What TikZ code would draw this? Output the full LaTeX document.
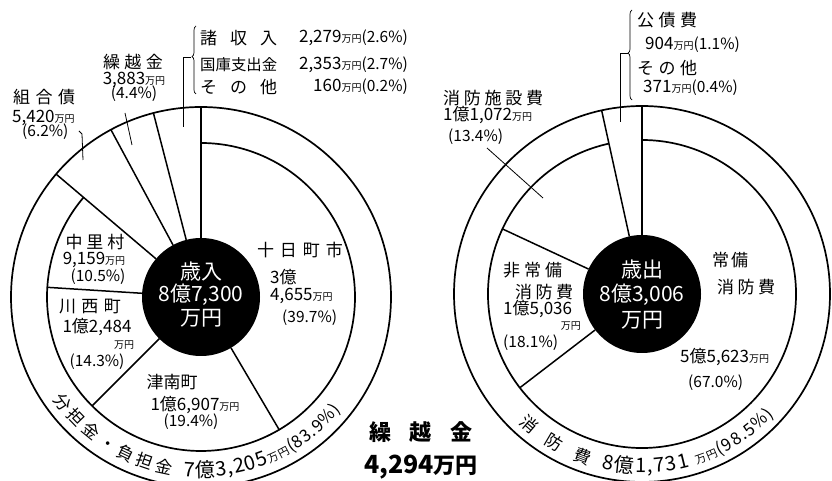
\documentclass[tikz,border=0pt]{standalone}
\usepackage{fontspec}
\setmainfont{Noto Sans CJK JP}
\usetikzlibrary{decorations.text,decorations.pathreplacing}
\newcommand\mY{{\fontsize{10}{10}\selectfont 万円}}
\newcommand\pcx[1]{{\fontsize{15.5}{15.5}\selectfont(#1\%)}}
\newcommand\sprd[2]{\makebox[#1][s]{#2}}
\begin{document}
\begin{tikzpicture}[x=1pt,y=1pt,
  ring/.style={line width=1.7pt},
  spoke/.style={line width=1.5pt},
  leader/.style={line width=0.8pt},
  lbl/.style={font=\fontsize{17}{19}\selectfont, inner sep=0pt},
  ctr/.style={font=\fontsize{21}{23}\selectfont, text=white, inner sep=0pt},
  big/.style={font=\fontsize{22}{24}\selectfont\bfseries, inner sep=0pt},
  bracebar/.style={line width=0.7pt, decorate, decoration={brace, amplitude=4pt, aspect=#1}},
]
\clip (0,0) rectangle (832,481);
\coordinate (L) at (201,184);
\coordinate (R) at (642,187);

% ---------- left pie ----------
\draw[ring] (L) circle[radius=190];
\draw[ring] ([shift={(139.7:154)}]L) arc[start angle=139.7, end angle=450, radius=154];
\fill (L) circle[radius=59];
\foreach \a in {90,104.5,118.3,139.7}
  \draw[spoke] ([shift={(\a:59)}]L) -- ([shift={(\a:190)}]L);
\foreach \a in {176.4,-135,-59.5}
  \draw[spoke] ([shift={(\a:59)}]L) -- ([shift={(\a:154)}]L);

\path[decorate, decoration={text along path, text align=fit to path,
  text={|\fontsize{17}{17}\selectfont|分担金・負担金}}]
  ([shift={(-145.5:180)}]L) arc[start angle=-145.5, end angle=-99.5, radius=180];
\path[decorate, decoration={text along path, text align=fit to path,
  text={|\fontsize{20}{20}\selectfont|7億3,205|\fontsize{11}{11}\selectfont|万円|\fontsize{17}{17}\selectfont|(83.9{\%})}}]
  ([shift={(-95.5:180)}]L) arc[start angle=-95.5, end angle=-39, radius=180];

\node[ctr] (inA) at (201,209) {歳入};
\node[ctr] (inB) at (201,186) {8億7,300};
\node[ctr] (inC) at (201,163) {万円};

\node[lbl] (tk1) at (300,231) {\sprd{86pt}{十\hfill 日\hfill 町\hfill 市}};
\node[lbl,anchor=west] (tk2) at (270,204) {3億};
\node[lbl,anchor=west] (tk3) at (270,185) {4,655\mY};
\node[lbl,anchor=west] (tk4) at (282,163) {\pcx{39.7}};

\node[lbl] (nk1) at (95,239) {\sprd{59pt}{中\hfill 里\hfill 村}};
\node[lbl] (nk2) at (94,221) {9,159\mY};
\node[lbl] (nk3) at (98,204) {\pcx{10.5}};

\node[lbl] (kw1) at (90,174) {\sprd{62pt}{川\hfill 西\hfill 町}};
\node[lbl] (kw2) at (97,154) {1億2,484};
\node[lbl] (kw3) at (124,136) {\mY};
\node[lbl] (kw4) at (97,119) {\pcx{14.3}};

\node[lbl] (tn1) at (172,99) {津南町};
\node[lbl] (tn2) at (195,76) {1億6,907\mY};
\node[lbl] (tn3) at (191,59) {\pcx{19.4}};

\node[lbl,anchor=west] (kb1) at (13,384) {\sprd{62pt}{組\hfill 合\hfill 債}};
\node[lbl,anchor=west] (kb2) at (12,363) {5,420\mY};
\node[lbl,anchor=west] (kb3) at (22,349) {\pcx{6.2}};
\coordinate (kbA) at (79,350);
\coordinate (kbB) at (82,347);
\coordinate (kbC) at (83,321);
\draw[leader] (kbA) -- (kbB) -- (kbC);

\node[lbl] (kk1) at (133,419) {\sprd{60pt}{繰\hfill 越\hfill 金}};
\node[lbl] (kk2) at (134,401) {3,883\mY};
\node[lbl] (kk3) at (134,387) {\pcx{4.4}};
\coordinate (kkA) at (125,368);
\coordinate (kkB) at (132,336);
\draw[leader] (kkA) -- (kkB);

\node[lbl,anchor=west] (sy1) at (200,443) {\sprd{77pt}{諸\hfill 収\hfill 入}};
\node[lbl,anchor=east] (sy2) at (408,443) {2,279\mY\pcx{2.6}};
\node[lbl,anchor=west,font=\fontsize{15.4}{17}\selectfont] (kk4) at (200,416) {国庫支出金};
\node[lbl,anchor=east] (kk5) at (408,416) {2,353\mY\pcx{2.7}};
\node[lbl,anchor=west] (st1) at (200,394) {\sprd{77pt}{そ\hfill の\hfill 他}};
\node[lbl,anchor=east] (st2) at (408,394) {160\mY\pcx{0.2}};
\coordinate (brL1) at (196,387);
\coordinate (brL2) at (196,455);
\draw[bracebar=0.55] (brL1) -- (brL2);
\coordinate (ldL1) at (191,424);
\coordinate (ldL2) at (183,424);
\coordinate (ldL3) at (183,354);
\draw[leader] (ldL1) -- (ldL2) -- (ldL3);

% ---------- centre bottom ----------
\node[big] (kz1) at (421,49) {\sprd{103pt}{繰\hfill 越\hfill 金}};
\node[big] (kz2) at (421,14) {{\fontsize{25}{25}\selectfont 4,294}万円};

% ---------- right pie ----------
\draw[ring] (R) circle[radius=188];
\draw[ring] ([shift={(102.4:154)}]R) arc[start angle=102.4, end angle=450, radius=154];
\fill (R) circle[radius=59];
\foreach \a in {90,102.4}
  \draw[spoke] ([shift={(\a:59)}]R) -- ([shift={(\a:188)}]R);
\foreach \a in {155,-142.5}
  \draw[spoke] ([shift={(\a:59)}]R) -- ([shift={(\a:154)}]R);

\path[decorate, decoration={text along path, text align=fit to path,
  text={|\fontsize{17}{17}\selectfont|消防費}}]
  ([shift={(-133.5:179)}]R) arc[start angle=-133.5, end angle=-107.5, radius=179];
\path[decorate, decoration={text along path, text align=fit to path,
  text={|\fontsize{20}{20}\selectfont|8億1,731 |\fontsize{11}{11}\selectfont|万円|\fontsize{17}{17}\selectfont|(98.5{\%})}}]
  ([shift={(-103:179)}]R) arc[start angle=-103, end angle=-42.5, radius=179];

\node[ctr] (outA) at (642,211) {歳出};
\node[ctr] (outB) at (642,186) {8億3,006};
\node[ctr] (outC) at (642,161) {万円};

\node[lbl,anchor=west] (jb1) at (712,221) {\sprd{36pt}{常\hfill 備}};
\node[lbl,anchor=west] (jb2) at (717,194) {\sprd{58pt}{消\hfill 防\hfill 費}};
\node[lbl,anchor=west] (jb3) at (680,124) {5億5,623\mY};
\node[lbl,anchor=west] (jb4) at (688,98) {\pcx{67.0}};

\node[lbl,anchor=west] (hj1) at (503,211) {\sprd{59pt}{非\hfill 常\hfill 備}};
\node[lbl,anchor=west] (hj2) at (515,189) {\sprd{58pt}{消\hfill 防\hfill 費}};
\node[lbl,anchor=west] (hj3) at (503,172) {1億5,036};
\node[lbl,anchor=east] (hj4) at (581,155) {\mY};
\node[lbl,anchor=west] (hj5) at (503,138) {\pcx{18.1}};

\node[lbl,anchor=west] (ss1) at (443,383) {\sprd{100pt}{消\hfill 防\hfill 施\hfill 設\hfill 費}};
\node[lbl,anchor=west] (ss2) at (443,366) {1億1,072\mY};
\node[lbl,anchor=west] (ss3) at (448,344) {\pcx{13.4}};
\coordinate (ssA) at (487,333);
\coordinate (ssB) at (543,283);
\draw[leader] (ssA) -- (ssB);

\node[lbl,anchor=west] (ks1) at (637,461) {\sprd{60pt}{公\hfill 債\hfill 費}};
\node[lbl,anchor=west] (ks2) at (645,436) {904\mY\pcx{1.1}};
\node[lbl,anchor=west] (so1) at (637,413) {\sprd{60pt}{そ\hfill の\hfill 他}};
\node[lbl,anchor=west] (so2) at (643,393) {371\mY\pcx{0.4}};
\coordinate (brR1) at (632,381);
\coordinate (brR2) at (632,471);
\draw[bracebar=0.52] (brR1) -- (brR2);
\coordinate (ldR1) at (628,428);
\coordinate (ldR2) at (620,428);
\coordinate (ldR3) at (620,359);
\draw[leader] (ldR1) -- (ldR2) -- (ldR3);
\end{tikzpicture}
\end{document}
